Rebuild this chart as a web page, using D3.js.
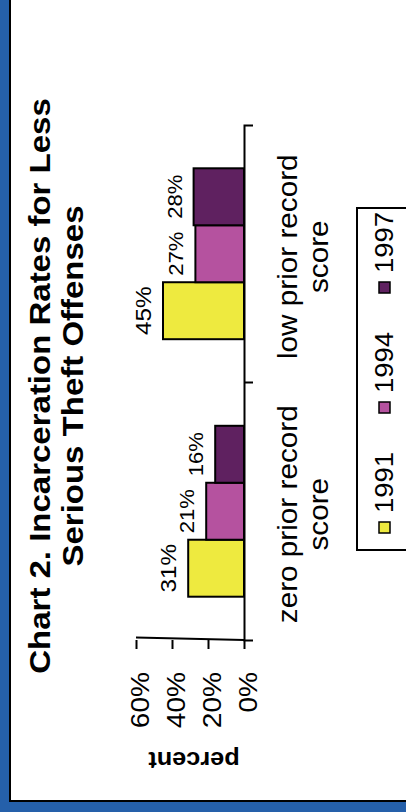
<!DOCTYPE html>
<html><head><meta charset="utf-8">
<script src="https://cdn.jsdelivr.net/npm/d3@7"></script>
<style>
html,body{margin:0;padding:0;background:#fff;}
svg{display:block;font-family:"Liberation Sans",Arial,sans-serif;}
</style>
</head><body>
<svg id="chart" width="406" height="812"></svg>
<script>
// Incarceration rates by prior record score and year
const categories = ["zero prior record score", "low prior record score"];
const categoryLines = [["zero prior record", "score"], ["low prior record", "score"]];
const years = ["1991", "1994", "1997"];
const rate1991 = [31, 45];
const rate1994 = [21, 27];
const rate1997 = [16, 28];
const percentTicks = [0, 20, 40, 60];
const yearColors = ["#eeea3f", "#b5529f", "#5f2160"];
const titleLines = ["Chart 2. Incarceration Rates for Less", "Serious Theft Offenses"];
const axisTitle = "percent";

const series = years.map((yr, i) => ({
  year: yr,
  values: [rate1991, rate1994, rate1997][i],
  color: yearColors[i],
  labelSize: i === 0 ? 22 : 20
}));

const STRETCH = 1.1; // text is drawn a little wider along its reading direction

const svg = d3.select("#chart");

// page frame
svg.append("rect").attr("x", 0).attr("y", 0).attr("width", 406).attr("height", 812).attr("fill", "#2560aa");
svg.append("rect").attr("x", 10).attr("y", -10).attr("width", 410).attr("height", 811)
  .attr("fill", "#fff").attr("stroke", "#000").attr("stroke-width", 2);

// the chart is laid out turned a quarter turn: values run leftwards, categories upwards
const x = d3.scaleLinear().domain([0, 60]).range([244, 136]);
const y0 = d3.scaleBand().domain(categories).range([640, 125]);
const y1 = d3.scaleBand().domain(years).range([y0.bandwidth(), 0]).paddingOuter(0.76);

function rotText(parent, tx, ty, angle, str, size, weight, anchor, stretch) {
  return parent.append("text")
    .attr("transform", `translate(${tx},${ty}) rotate(${angle}) scale(${stretch == null ? STRETCH : stretch},1)`)
    .attr("text-anchor", anchor || "middle")
    .attr("font-size", size)
    .attr("font-weight", weight || "normal")
    .attr("fill", "#000")
    .text(str);
}

// title
titleLines.forEach((t, i) => rotText(svg, 50 + i * 33, 386, -90, t, 30, "bold"));

// bars with value labels
const groups = svg.selectAll("g.cat").data(categories).join("g")
  .attr("class", "cat")
  .attr("transform", d => `translate(0,${y0(d)})`);

groups.each(function (cat, ci) {
  const g = d3.select(this);
  series.forEach(s => {
    const v = s.values[ci];
    g.append("rect")
      .attr("x", x(v)).attr("y", y1(s.year))
      .attr("width", x(0) - x(v)).attr("height", y1.bandwidth())
      .attr("fill", s.color).attr("stroke", "#000").attr("stroke-width", 2);
    rotText(g, x(v) - 12, y1(s.year) + y1.bandwidth() / 2, -90, v + "%", s.labelSize, "normal");
  });
  categoryLines[ci].forEach((line, li) =>
    rotText(g, 297 + li * 31, y0.bandwidth() / 2 + 3, -90, line, 27, "normal"));
});

// value axis
const xAxis = svg.append("g").attr("transform", "translate(0,640)")
  .call(d3.axisBottom(x).tickValues(percentTicks).tickSize(9).tickSizeOuter(0).tickFormat(d => d + "%"));
xAxis.selectAll("path,line").attr("stroke", "#000").attr("stroke-width", 2);
xAxis.select("path.domain").attr("d", `M${x(60)},-2.5L${x(0)},0`);
xAxis.selectAll("text")
  .attr("font-size", 25.5).attr("font-family", "Liberation Sans, Arial, sans-serif")
  .attr("fill", "#000")
  .attr("text-anchor", "end")
  .attr("x", null).attr("y", null).attr("dy", null)
  .attr("transform", `translate(12.5,32) rotate(-90) scale(${STRETCH},1)`);

// category axis
const yAxis = svg.append("g").attr("transform", "translate(244,0)")
  .call(d3.axisRight(y0).tickValues([]).tickSizeOuter(9));
yAxis.selectAll("path").attr("stroke", "#000").attr("stroke-width", 2);
yAxis.append("line").attr("x1", 0).attr("x2", 9)
  .attr("y1", y0(categories[0])).attr("y2", y0(categories[0]))
  .attr("stroke", "#000").attr("stroke-width", 2);

// axis title
rotText(svg, 194, 752, 180, axisTitle, 23, "bold", "middle", 1.1);

// legend
svg.append("rect").attr("x", 357).attr("y", 208).attr("width", 70).attr("height", 342)
  .attr("fill", "#fff").attr("stroke", "#000").attr("stroke-width", 2);
const legendY = d3.scalePoint().domain(years).range([522, 282]);
series.forEach(s => {
  svg.append("rect").attr("x", 379).attr("y", legendY(s.year)).attr("width", 11).attr("height", 11)
    .attr("fill", s.color).attr("stroke", "#000").attr("stroke-width", 1.5);
  rotText(svg, 393, legendY(s.year) - 9, -90, s.year, 25, "normal", "start");
});
</script>
</body></html>
